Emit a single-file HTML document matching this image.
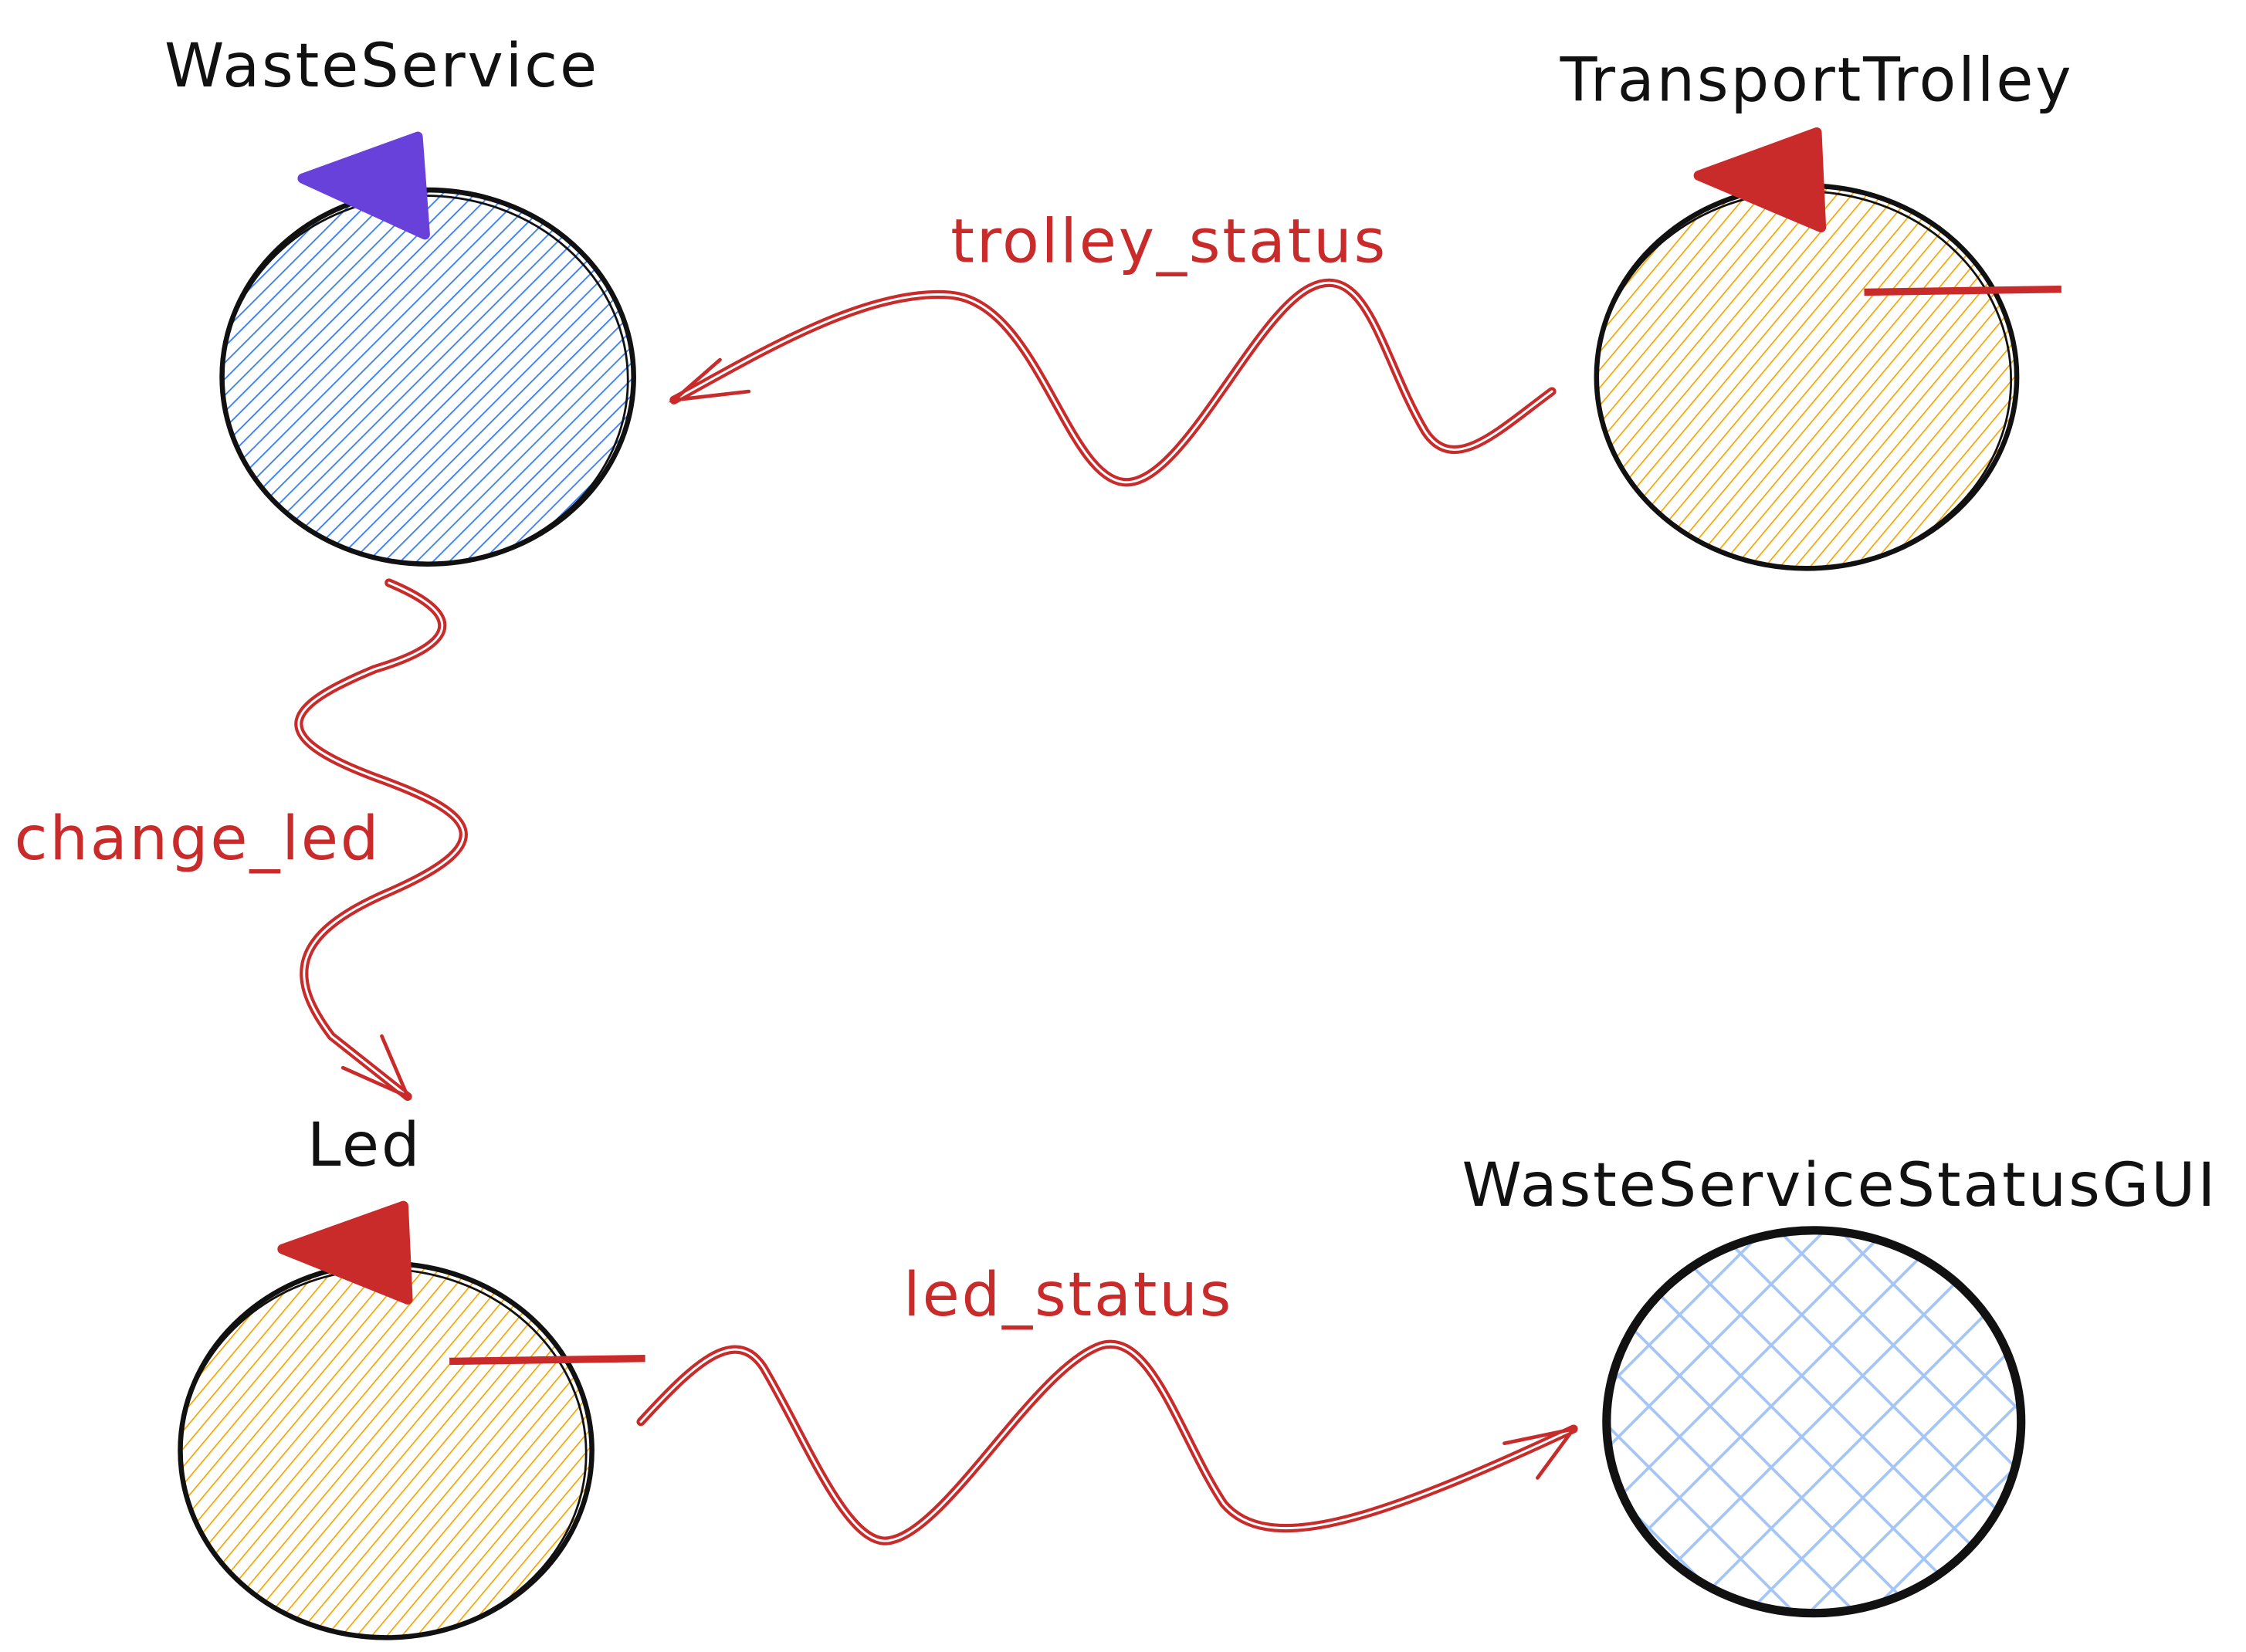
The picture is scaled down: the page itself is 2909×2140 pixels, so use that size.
<!DOCTYPE html>
<html><head><meta charset="utf-8"><style>
html,body{margin:0;padding:0;background:#fff;}
svg{display:block;}
text{font-family:"DejaVu Sans","Liberation Sans",sans-serif;letter-spacing:1.5px;}
</style></head><body>
<svg width="2909" height="2140" viewBox="0 0 1560 1148" xmlns="http://www.w3.org/2000/svg">
<defs>
<pattern id="hb" width="8" height="8" patternUnits="userSpaceOnUse" patternTransform="rotate(45)"><line x1="0" y1="0" x2="0" y2="8" stroke="#3b7ff5" stroke-width="2"/></pattern>
<pattern id="ho" width="8" height="8" patternUnits="userSpaceOnUse" patternTransform="rotate(40)"><line x1="0" y1="0" x2="0" y2="8" stroke="#f5a300" stroke-width="1.8"/></pattern>
<pattern id="hx" width="30" height="30" patternUnits="userSpaceOnUse" patternTransform="rotate(45)"><line x1="0" y1="0" x2="0" y2="30" stroke="#a5c6f5" stroke-width="4"/><line x1="0" y1="0" x2="30" y2="0" stroke="#a5c6f5" stroke-width="4"/></pattern>
</defs>

<g>
<ellipse cx="297" cy="262" rx="143" ry="130" fill="url(#hb)" stroke="#111" stroke-width="3.5"/>
<ellipse cx="295" cy="264" rx="141" ry="128" fill="none" stroke="#111" stroke-width="1.5"/>
<polygon points="210,124 290,95 295,163" fill="#6741d9" stroke="#6741d9" stroke-width="7" stroke-linejoin="round"/>
<text x="265" y="60" font-size="42" text-anchor="middle" fill="#111">WasteService</text>
</g>

<g>
<ellipse cx="1255" cy="262" rx="146" ry="133" fill="url(#ho)" stroke="#111" stroke-width="3.5"/>
<ellipse cx="1253" cy="264" rx="144" ry="131" fill="none" stroke="#111" stroke-width="1.5"/>
<polygon points="1180,122 1262,92 1265,158" fill="#c92a2a" stroke="#c92a2a" stroke-width="7" stroke-linejoin="round"/>
<line x1="1295" y1="203" x2="1432" y2="201" stroke="#c92a2a" stroke-width="5"/>
<text x="1262" y="70" font-size="42" text-anchor="middle" fill="#111">TransportTrolley</text>
</g>

<g>
<ellipse cx="268" cy="1008" rx="143" ry="130" fill="url(#ho)" stroke="#111" stroke-width="3.5"/>
<ellipse cx="266" cy="1010" rx="141" ry="128" fill="none" stroke="#111" stroke-width="1.5"/>
<polygon points="196,868 280,838 283,903" fill="#c92a2a" stroke="#c92a2a" stroke-width="7" stroke-linejoin="round"/>
<line x1="312" y1="946" x2="448" y2="944" stroke="#c92a2a" stroke-width="5"/>
<text x="253" y="810" font-size="42" text-anchor="middle" fill="#111">Led</text>
</g>

<g>
<ellipse cx="1260" cy="988" rx="144" ry="133" fill="url(#hx)" stroke="#111" stroke-width="6"/>
<text x="1278" y="838" font-size="42" text-anchor="middle" fill="#111">WasteServiceStatusGUI</text>
</g>

<g fill="none" stroke-linecap="round">
<path d="M1078 272 C1040 300,1010 330,990 300 C960 250,950 180,910 200 C870 220,820 340,780 335 C740 330,720 210,660 205 C600 200,520 250,468 278" stroke="#c92a2a" stroke-width="6"/>
<path d="M1078 272 C1040 300,1010 330,990 300 C960 250,950 180,910 200 C870 220,820 340,780 335 C740 330,720 210,660 205 C600 200,520 250,468 278" stroke="#fff" stroke-width="1.6"/>
<path d="M520 272 L468 278 L500 250" stroke="#c92a2a" stroke-width="2.5"/>
<text x="812" y="182" font-size="42" text-anchor="middle" fill="#c92a2a" stroke="none">trolley_status</text>
</g>

<g fill="none" stroke-linecap="round">
<path d="M270 405 C330 430,310 450,260 465 C200 490,180 510,260 540 C330 565,350 585,270 620 C200 650,200 680,230 720 L283 762" stroke="#c92a2a" stroke-width="6"/>
<path d="M270 405 C330 430,310 450,260 465 C200 490,180 510,260 540 C330 565,350 585,270 620 C200 650,200 680,230 720 L283 762" stroke="#fff" stroke-width="1.6"/>
<path d="M238 742 L283 762 L265 720" stroke="#c92a2a" stroke-width="2.5"/>
<text x="137" y="597" font-size="42" text-anchor="middle" fill="#c92a2a" stroke="none">change_led</text>
</g>

<g fill="none" stroke-linecap="round">
<path d="M445 988 C480 950,510 920,530 950 C560 1000,590 1080,620 1070 C660 1060,720 950,765 935 C800 925,820 1000,850 1045 C880 1080,950 1060,1093 993" stroke="#c92a2a" stroke-width="6"/>
<path d="M445 988 C480 950,510 920,530 950 C560 1000,590 1080,620 1070 C660 1060,720 950,765 935 C800 925,820 1000,850 1045 C880 1080,950 1060,1093 993" stroke="#fff" stroke-width="1.6"/>
<path d="M1045 1003 L1093 993 L1068 1027" stroke="#c92a2a" stroke-width="2.5"/>
<text x="742" y="914" font-size="42" text-anchor="middle" fill="#c92a2a" stroke="none">led_status</text>
</g>
</svg>
</body></html>
